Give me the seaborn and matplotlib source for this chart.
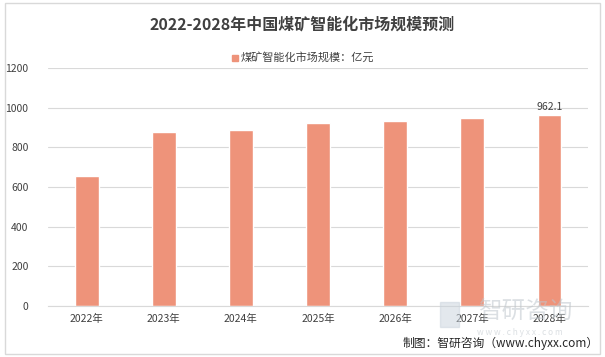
import matplotlib
matplotlib.use('Agg')
import matplotlib.pyplot as plt
import seaborn as sns
import pandas as pd
from matplotlib.patches import Rectangle

# 数据
anos = ['2022年', '2023年', '2024年', '2025年', '2026年', '2027年', '2028年']
valores = [655, 879, 888, 924, 934, 948, 962.1]
serie = '煤矿智能化市场规模：亿元'
cor = '#EE937A'

sns.set_style('white')
plt.rcParams['font.family'] = ['Noto Sans CJK SC', 'DejaVu Sans']

df = pd.DataFrame({'ano': anos, 'valor': valores})

fig = plt.figure(figsize=(6.05, 3.57), dpi=100)
ax = fig.add_axes([0.0793, 0.1429, 0.8927, 0.6666])

sns.barplot(data=df, x='ano', y='valor', color=cor, width=0.31, saturation=1, ax=ax)

ax.set_ylim(0, 1200)
ax.set_yticks(range(0, 1201, 200))
ax.set_xlim(-0.5, len(anos) - 0.5)
ax.yaxis.grid(True, color='#D9D9D9', linewidth=0.8)
ax.set_axisbelow(True)
for s in ['top', 'right', 'left']:
    ax.spines[s].set_visible(False)
ax.spines['bottom'].set_color('#D9D9D9')
ax.tick_params(axis='both', length=0, labelsize=7.5, colors='#404040')
ax.tick_params(axis='x', pad=6)
ax.tick_params(axis='y', pad=14)
ax.set_xlabel('')
ax.set_ylabel('')

# rótulo só no último
ax.text(len(anos) - 1, valores[-1] + 15, f'{valores[-1]}', ha='center', va='bottom',
        fontsize=7.5, color='#404040')

# título e legenda
fig.text(0.5, 0.93, '2022-2028年中国煤矿智能化市场规模预测', ha='center', va='center',
         fontsize=11.5, fontweight='bold', color='#404040')
fig.patches.append(Rectangle((0.383, 0.829), 0.011, 0.018, transform=fig.transFigure,
                             color=cor, figure=fig))
fig.text(0.398, 0.838, serie, ha='left', va='center', fontsize=8, color='#404040')

# marca d'água
fig.patches.append(Rectangle((0.727, 0.085), 0.032, 0.07, transform=fig.transFigure,
                             color='#C9D3DC', alpha=0.5, figure=fig))
fig.text(0.868, 0.125, '智研咨询', ha='center', va='center', fontsize=17,
         color='#BFC6CC', alpha=0.55)
fig.text(0.86, 0.068, 'w w w . c h y x x . c o m', ha='center', va='center', fontsize=6,
         color='#BFC6CC', alpha=0.55)

fig.text(0.99, 0.038, '制图：智研咨询（www.chyxx.com）', ha='right', va='center',
         fontsize=8.5, color='#262626')

# borda
fig.patches.append(Rectangle((0.008, 0.008), 0.984, 0.984, transform=fig.transFigure,
                             fill=False, edgecolor='#D9D9D9', linewidth=1, figure=fig))

plt.savefig('out.png', dpi=100)
